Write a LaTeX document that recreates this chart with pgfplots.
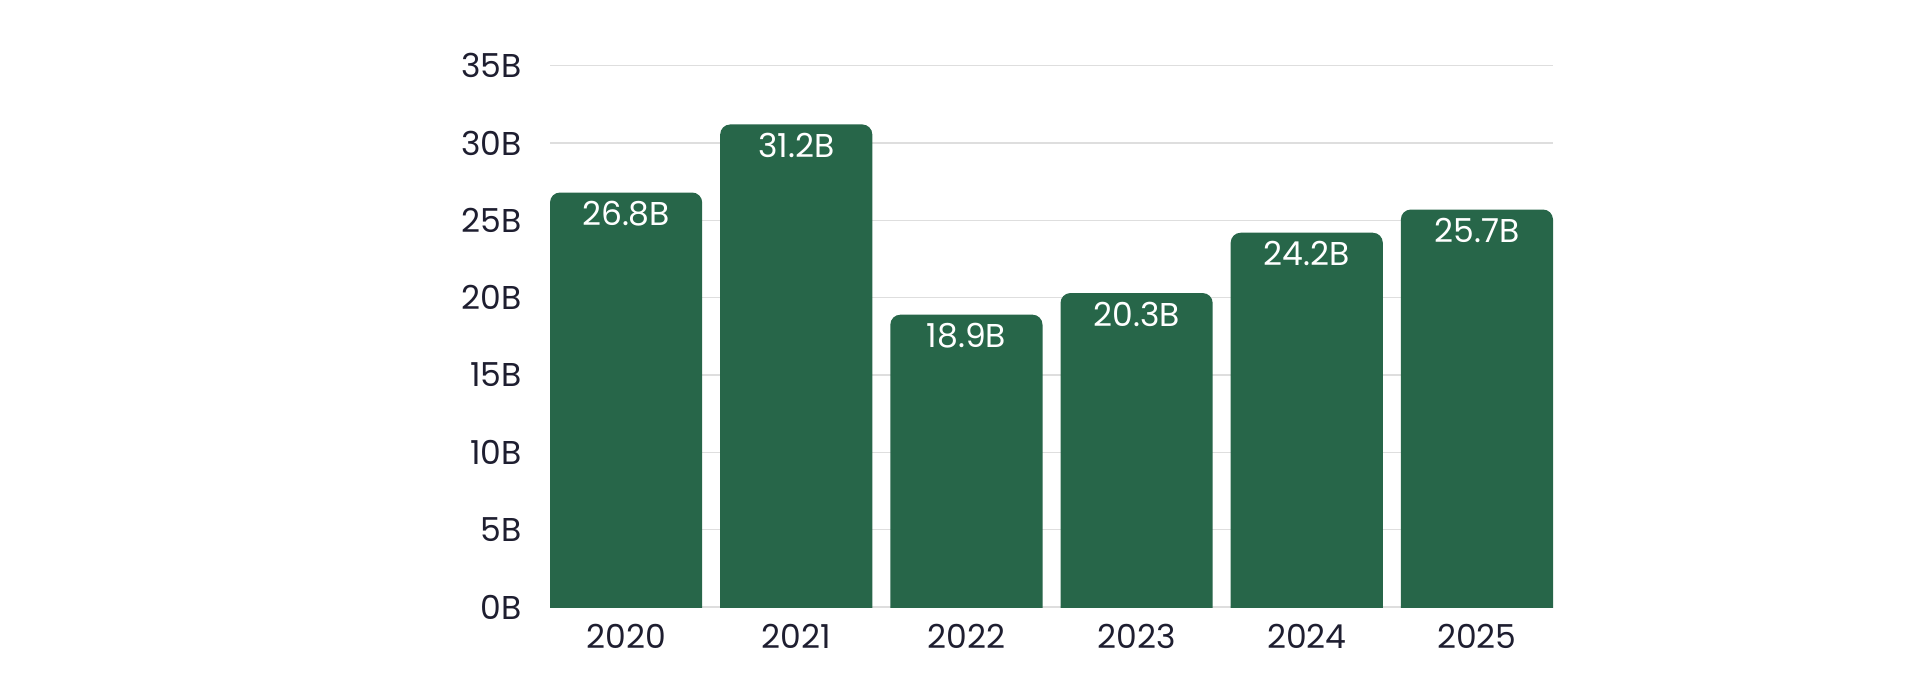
\documentclass[border=0pt]{standalone}
\usepackage{pgfplots}
\pgfplotsset{compat=1.18}
\usepackage{fontspec}
\setmainfont{Poppins}
\definecolor{bargreen}{RGB}{39,102,73}
\definecolor{txt}{RGB}{30,30,48}
\definecolor{gridc}{RGB}{222,222,222}
\begin{document}
\begin{tikzpicture}
\path[use as bounding box] (-275pt,-39pt) rectangle (685pt,303.5pt);
\begin{axis}[
  at={(0,0)}, anchor=south west,
  scale only axis, width=501.5pt, height=270.65pt,
  xmin=-0.4471, xmax=5.4471, ymin=0, ymax=35,
  axis line style={draw=none},
  major tick length=0pt,
  ytick={0,5,...,35},
  yticklabels={0B,5B,10B,15B,20B,25B,30B,35B},
  xtick={0,1,2,3,4,5},
  xticklabels={2020,2021,2022,2023,2024,2025},
  ymajorgrids, grid style={gridc, line width=0.75pt},
  /pgf/number format/assume math mode=true,
  tick label style={font=\fontsize{16.5}{19}\selectfont, text=txt},
  yticklabel style={anchor=east, inner sep=0pt, xshift=-14pt},
  xticklabel style={anchor=north, inner sep=0pt, yshift=-8.5pt},
]
\addplot[fill=bargreen, draw=none, rounded corners=5pt] coordinates {(-0.4471,-2) (-0.4471,26.8) (0.4471,26.8) (0.4471,-2)};
\addplot[fill=bargreen, draw=none, rounded corners=5pt] coordinates {(0.5529,-2) (0.5529,31.2) (1.4471,31.2) (1.4471,-2)};
\addplot[fill=bargreen, draw=none, rounded corners=5pt] coordinates {(1.5529,-2) (1.5529,18.9) (2.4471,18.9) (2.4471,-2)};
\addplot[fill=bargreen, draw=none, rounded corners=5pt] coordinates {(2.5529,-2) (2.5529,20.3) (3.4471,20.3) (3.4471,-2)};
\addplot[fill=bargreen, draw=none, rounded corners=5pt] coordinates {(3.5529,-2) (3.5529,24.2) (4.4471,24.2) (4.4471,-2)};
\addplot[fill=bargreen, draw=none, rounded corners=5pt] coordinates {(4.5529,-2) (4.5529,25.7) (5.4471,25.7) (5.4471,-2)};
\addplot[draw=none, mark=none, nodes near coords, point meta=explicit symbolic,
  nodes near coords style={anchor=north, inner sep=0pt, yshift=-4.2pt, text=white, font=\fontsize{16.5}{19}\selectfont}]
  table[meta=label] {
x y label
0 26.8 26.8B
1 31.2 31.2B
2 18.9 18.9B
3 20.3 20.3B
4 24.2 24.2B
5 25.7 25.7B
};
\end{axis}
\end{tikzpicture}
\end{document}
